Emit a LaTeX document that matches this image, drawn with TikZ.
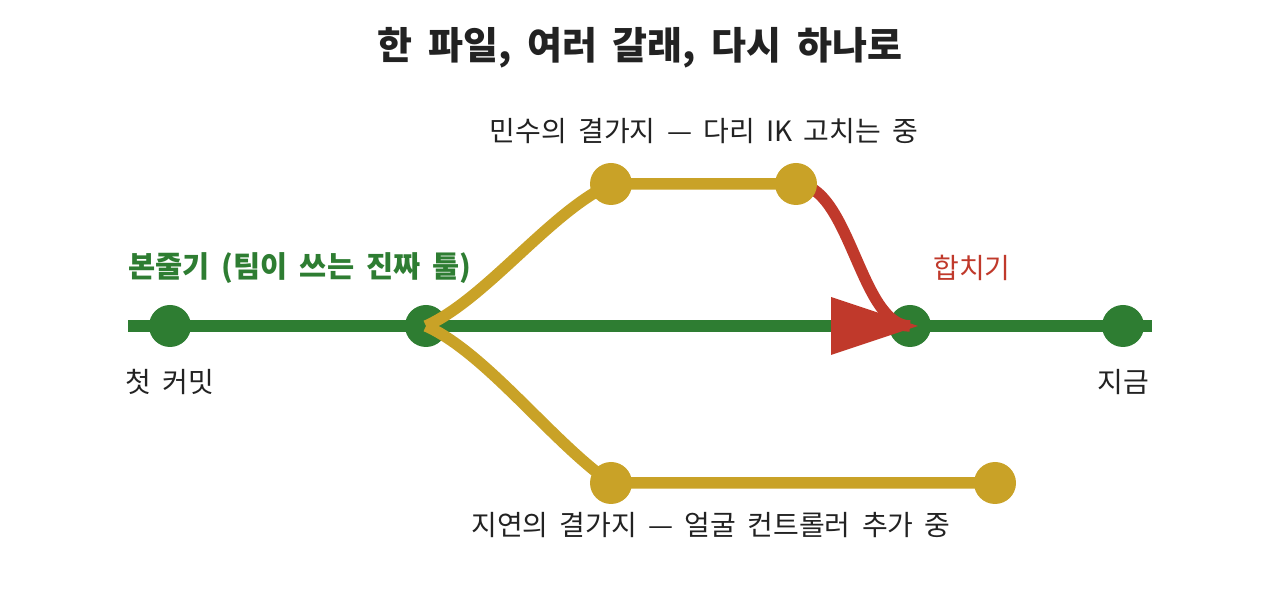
\documentclass[tikz,border=0pt]{standalone}
\usepackage{fontspec}
\usepackage{tikz}
\usetikzlibrary{positioning}
\newfontfamily\kr{Noto Sans CJK KR}[WordSpace=2]
\newfontfamily\krtitle{Noto Sans CJK KR}[WordSpace=1.8]

\definecolor{trunkgreen}{HTML}{2E7D32}
\definecolor{branchgold}{HTML}{C9A227}
\definecolor{mergered}{HTML}{C0392B}
\definecolor{inkdark}{HTML}{222222}

\begin{document}
\begin{tikzpicture}[x=1pt, y=1pt,
    trunk/.style={trunkgreen, line width=11.5pt},
    twig/.style={branchgold, line width=11.5pt},
    mergeline/.style={mergered, line width=11.5pt},
    lbl/.style={font=\kr\fontsize{28}{34}\selectfont, text=inkdark, inner sep=0pt}]
            \useasboundingbox (0,0) rectangle (1280,597);

            \coordinate (C_1) at (170, 271);
            \coordinate (C_2) at (426, 271);
            \coordinate (C_3) at (910, 271);
            \coordinate (C_4) at (1123, 271);
            \coordinate (M_1) at (611, 413);
            \coordinate (M_2) at (796, 413);
            \coordinate (J_1) at (611, 114);
            \coordinate (J_2) at (995, 114);

            % Draw trunk
            \draw[trunk] (128, 271) -- (1152, 271);
            \fill[trunkgreen] (C_1) circle (21pt);
            \fill[trunkgreen] (C_2) circle (21pt);
            \fill[trunkgreen] (C_3) circle (21pt);
            \fill[trunkgreen] (C_4) circle (21pt);

            % Draw branches
            \draw[twig] (C_2) .. controls (486, 298) and (551, 386) .. (M_1) -- (M_2);
            \draw[twig] (C_2) .. controls (486, 244) and (551, 156) .. (J_1) -- (J_2);
            \draw[mergeline] (M_2) .. controls (850, 413) and (860, 271) .. (C_3);

            % Add commits
            \fill[branchgold] (M_1) circle (21pt);
            \fill[branchgold] (M_2) circle (21pt);
            \fill[branchgold] (J_1) circle (21pt);
            \fill[branchgold] (J_2) circle (21pt);
            \fill[mergered] ([xshift=8pt]C_3) -- ++(-87, 29) -- ++(0, -58) -- cycle;

            % Labels
            \node[lbl, font=\krtitle\bfseries\fontsize{38}{44}\selectfont] (title) at (640, 549) {한 파일, 여러 갈래, 다시 하나로};
            \node[lbl] (minsu) at (704, 466) {민수의 결가지 — 다리 IK 고치는 중};
            \node[lbl, text=trunkgreen, font=\kr\bfseries\fontsize{29.5}{34}\selectfont] (trunklbl) at (300, 329) {본줄기 (팀이 쓰는 진짜 툴)};
            \node[lbl, text=mergered] (mergelbl) at (972, 329) {합치기};
            \node[lbl, below=43pt of C_1] (first) {첫 커밋};
            \node[lbl, below=43pt of C_4] (now) {지금};
            \node[lbl] (jiyeon) at (711, 72) {지연의 결가지 — 얼굴 컨트롤러 추가 중};
\end{tikzpicture}
\end{document}
